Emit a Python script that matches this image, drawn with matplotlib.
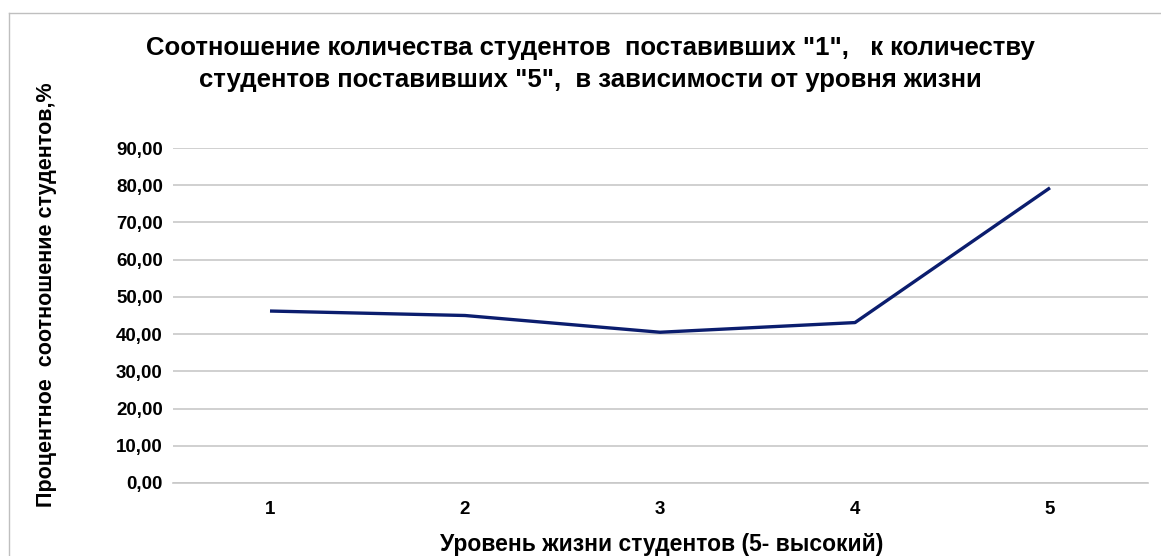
import matplotlib
matplotlib.use("Agg")
import matplotlib.pyplot as plt

categories = ["1", "2", "3", "4", "5"]
values = [46.2, 45.0, 40.5, 43.1, 79.3]
yticks = [0, 10, 20, 30, 40, 50, 60, 70, 80, 90]
ytick_labels = ["0,00", "10,00", "20,00", "30,00", "40,00", "50,00", "60,00", "70,00", "80,00", "90,00"]
title = 'Соотношение количества студентов  поставивших "1",   к количеству\nстудентов поставивших "5",  в зависимости от уровня жизни'
xlabel = "Уровень жизни студентов (5- высокий)"
ylabel = "Процентное  соотношение студентов,%"

font = "Liberation Sans"

fig = plt.figure(figsize=(11.61, 5.56), dpi=100)
ax = fig.add_axes([172.5/1161, 1-483/556, 975/1161, 335/556])

x = list(range(len(categories)))
ax.plot(x, values, color="#0b1d6e", lw=2.4, solid_capstyle="butt", zorder=3)
ax.set_xlim(-0.5, len(categories) - 0.5)
ax.set_ylim(0, 90)
ax.set_yticks(yticks)
ax.set_yticklabels(ytick_labels)
ax.set_xticks(x)
ax.set_xticklabels(categories)
ax.grid(axis="y", color="#c8c8c8", lw=1.2)
ax.set_axisbelow(True)
for s in ["top", "right", "left"]:
    ax.spines[s].set_visible(False)
ax.spines["bottom"].set_color("#c8c8c8")
ax.spines["bottom"].set_linewidth(1.2)
ax.tick_params(length=0)
ax.tick_params(axis="y", pad=7)
ax.tick_params(axis="x", pad=13)
for lab in ax.get_yticklabels() + ax.get_xticklabels():
    lab.set_fontfamily(font)
    lab.set_fontweight("bold")
    lab.set_fontsize(13.5)

fig.text(590/1161, 1-64/556, title, ha="center", va="center", fontsize=18.5,
         fontweight="bold", family=font, linespacing=1.45)
fig.text(662/1161, 1-545/556, xlabel, ha="center", va="center", fontsize=16.5,
         fontweight="bold", family=font)
fig.text(47/1161, 1-295/556, ylabel, ha="center", va="center", rotation=90,
         fontsize=15.5, fontweight="bold", family=font)

# chart border (Excel chart area)
fig.add_artist(plt.Line2D([9/1161, 9/1161], [0, 1-13/556], transform=fig.transFigure, color="#bfbfbf", lw=1))
fig.add_artist(plt.Line2D([9/1161, 1], [1-13/556, 1-13/556], transform=fig.transFigure, color="#bfbfbf", lw=1))

fig.savefig("out.png", dpi=100)
